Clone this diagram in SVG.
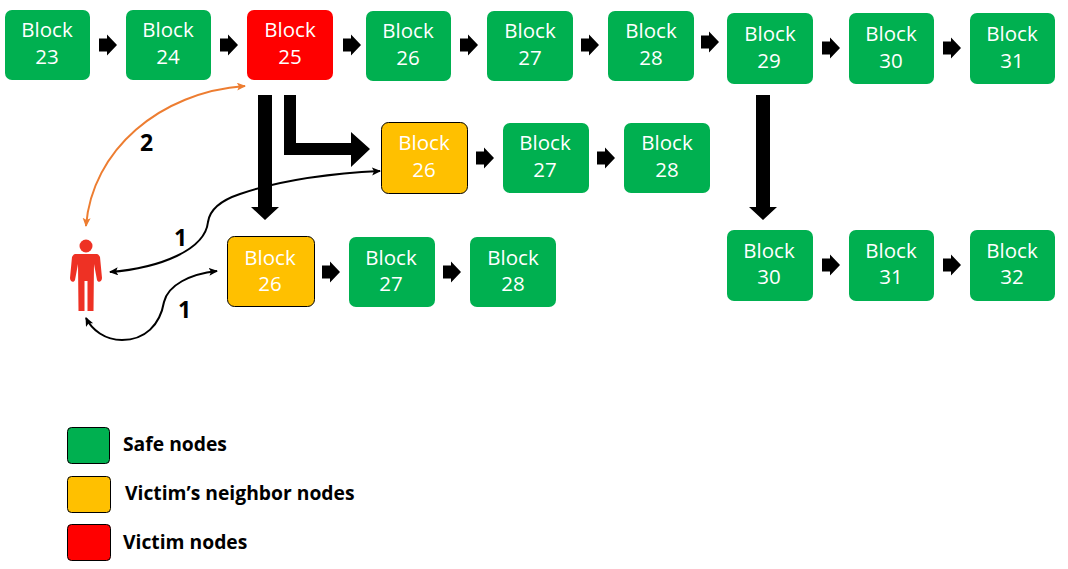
<svg xmlns="http://www.w3.org/2000/svg" width="1068" height="569" viewBox="0 0 1068 569">
<style>
.g{fill:#00b050}.y{fill:#ffc000;stroke:#000;stroke-width:1}.r{fill:#ff0000}
.bt{font-family:"Open Sans","Noto Sans","Liberation Sans",sans-serif;font-size:20.500px;fill:#fff;text-anchor:middle}
.lb{font-family:"Open Sans","Liberation Sans",sans-serif;font-size:19.300px;font-weight:700;fill:#000}
.n{font-family:"Open Sans","Liberation Sans",sans-serif;font-size:23px;font-weight:700;fill:#000}
.bk{fill:none;stroke:#000;stroke-width:2}
.or{fill:none;stroke:#ed7d31;stroke-width:2}
</style>
<defs>
<path id="sa" d="M-9 -6.500H-1V-10.500L9 0L-1 10.500V6.500H-9Z" fill="#000"/>
<marker id="mb" markerWidth="10" markerHeight="10" refX="8" refY="4" orient="auto-start-reverse" markerUnits="userSpaceOnUse"><path d="M0 0L9 4L0 8L2 4Z" fill="#000"/></marker>
<marker id="mo" markerWidth="10" markerHeight="10" refX="8" refY="4" orient="auto-start-reverse" markerUnits="userSpaceOnUse"><path d="M0 0L9 4L0 8L2 4Z" fill="#ed7d31"/></marker>
</defs>
<g id="connectors">
<use href="#sa" x="108" y="45"/><use href="#sa" x="229" y="45"/><use href="#sa" x="352" y="45"/><use href="#sa" x="469" y="45"/><use href="#sa" x="590" y="45"/><use href="#sa" x="710" y="42"/><use href="#sa" x="831" y="48"/><use href="#sa" x="952" y="48"/>
<use href="#sa" x="485" y="158"/><use href="#sa" x="606" y="158"/>
<use href="#sa" x="331" y="272"/><use href="#sa" x="452" y="272"/>
<use href="#sa" x="831" y="265"/><use href="#sa" x="952" y="265"/>
<path d="M258 95H272V207H279L265 220L251 207H258Z" fill="#000"/>
<path d="M284 95H296V143H351V132L370 149L351 167V155H284Z" fill="#000"/>
<path d="M756 95H770V207H777L763 220L749 207H756Z" fill="#000"/>
<path class="or" d="M245 86C160 92 92 150 86 226" marker-start="url(#mo)" marker-end="url(#mo)"/>
<path class="bk" d="M380 171C320 174 275 182 240 194C222 200 210 208 208 222C205 250 160 268 110 272" marker-start="url(#mb)" marker-end="url(#mb)"/>
<path class="bk" d="M217 271C190 274 168 285 164 302C160 325 145 340 122 340C105 340 92 330 86 318" marker-start="url(#mb)" marker-end="url(#mb)"/>
</g>
<g id="b23"><rect class="g" x="5" y="10" width="85" height="70" rx="7"/><text class="bt" x="47" y="37">Block</text><text class="bt" x="47" y="64">23</text></g>
<g id="b24"><rect class="g" x="126" y="10" width="85" height="70" rx="7"/><text class="bt" x="168" y="37">Block</text><text class="bt" x="168" y="64">24</text></g>
<g id="b25"><rect class="r" x="247" y="10" width="86" height="70" rx="7"/><text class="bt" x="290" y="37">Block</text><text class="bt" x="290" y="64">25</text></g>
<g id="b26"><rect class="g" x="366" y="11" width="85" height="70" rx="7"/><text class="bt" x="408" y="38">Block</text><text class="bt" x="408" y="65">26</text></g>
<g id="b27"><rect class="g" x="487" y="11" width="86" height="70" rx="7"/><text class="bt" x="530" y="38">Block</text><text class="bt" x="530" y="65">27</text></g>
<g id="b28"><rect class="g" x="608" y="11" width="86" height="70" rx="7"/><text class="bt" x="651" y="38">Block</text><text class="bt" x="651" y="65">28</text></g>
<g id="b29"><rect class="g" x="727" y="13" width="86" height="71" rx="7"/><text class="bt" x="770" y="41">Block</text><text class="bt" x="769" y="68">29</text></g>
<g id="b30"><rect class="g" x="849" y="13" width="85" height="71" rx="7"/><text class="bt" x="891" y="41">Block</text><text class="bt" x="891" y="68">30</text></g>
<g id="b31"><rect class="g" x="970" y="13" width="85" height="71" rx="7"/><text class="bt" x="1012" y="41">Block</text><text class="bt" x="1012" y="68">31</text></g>
<g id="f1b26"><rect class="y" x="381.500" y="122.500" width="86" height="71" rx="7"/><text class="bt" x="424" y="150">Block</text><text class="bt" x="424" y="177">26</text></g>
<g id="f1b27"><rect class="g" x="503" y="123" width="86" height="70" rx="7"/><text class="bt" x="545" y="150">Block</text><text class="bt" x="545" y="177">27</text></g>
<g id="f1b28"><rect class="g" x="624" y="123" width="86" height="70" rx="7"/><text class="bt" x="667" y="150">Block</text><text class="bt" x="667" y="177">28</text></g>
<g id="f2b26"><rect class="y" x="227.500" y="236.500" width="87" height="70" rx="7"/><text class="bt" x="270" y="265">Block</text><text class="bt" x="270" y="291">26</text></g>
<g id="f2b27"><rect class="g" x="349" y="237" width="86" height="70" rx="7"/><text class="bt" x="391" y="265">Block</text><text class="bt" x="391" y="291">27</text></g>
<g id="f2b28"><rect class="g" x="470" y="237" width="86" height="70" rx="7"/><text class="bt" x="513" y="265">Block</text><text class="bt" x="513" y="291">28</text></g>
<g id="f3b30"><rect class="g" x="727" y="230" width="86" height="71" rx="7"/><text class="bt" x="769" y="258">Block</text><text class="bt" x="769" y="284">30</text></g>
<g id="f3b31"><rect class="g" x="849" y="230" width="85" height="71" rx="7"/><text class="bt" x="891" y="258">Block</text><text class="bt" x="891" y="284">31</text></g>
<g id="f3b32"><rect class="g" x="970" y="230" width="85" height="71" rx="7"/><text class="bt" x="1012" y="258">Block</text><text class="bt" x="1012" y="284">32</text></g>
<g id="attacker" fill="#ee3124">
<circle cx="86" cy="246" r="6.500"/>
<path d="M76 254H96C98 254 99 255 100 257L102 278C102 282 98 283 97 280L94 264L93.500 311H87.500V281H84.500V311H78.500L78 264L75 280C74 283 70 282 70 278L72 257C73 255 74 254 76 254Z"/>
</g>
<text class="n" x="140" y="151">2</text>
<text class="n" x="174" y="246">1</text>
<text class="n" x="178" y="318">1</text>
<g id="legend-safe"><rect x="67.500" y="427.500" width="42" height="36" rx="4" fill="#00b050" stroke="#000"/><text class="lb" x="123" y="451">Safe nodes</text></g>
<g id="legend-neighbor"><rect x="67.500" y="476.500" width="43" height="36" rx="4" fill="#ffc000" stroke="#000"/><text class="lb" x="125" y="500">Victim’s neighbor nodes</text></g>
<g id="legend-victim"><rect x="67.500" y="524.500" width="43" height="36" rx="4" fill="#ff0000" stroke="#000"/><text class="lb" x="123" y="549">Victim nodes</text></g>
</svg>
